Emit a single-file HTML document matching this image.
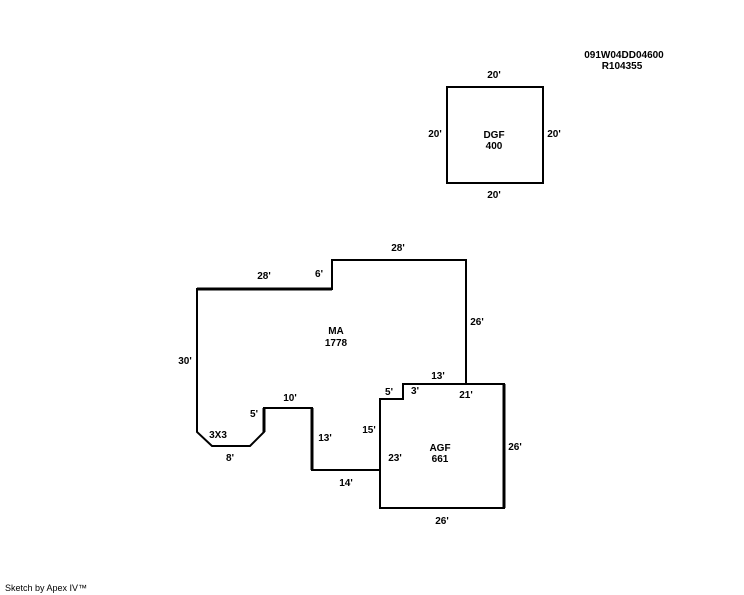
<!DOCTYPE html>
<html><head><meta charset="utf-8"><style>
html,body{margin:0;padding:0;background:#fff;width:744px;height:595px;overflow:hidden}
svg text{font-family:"Liberation Sans",Arial,sans-serif;font-weight:bold;font-size:10px;fill:#000}
</style></head><body>
<svg width="744" height="595" viewBox="0 0 744 595" xmlns="http://www.w3.org/2000/svg">
<g fill="none" stroke="#000" stroke-width="2">
<rect x="447" y="87" width="96" height="96"/>
<polyline points="466,384 466,260 332,260 332,289 197,289 197,432 212,446 250,446 264,432 264,408 312,408 312,470 380,470"/>
<polygon points="380,399 403,399 403,384 504,384 504,508 380,508"/>
</g>
<line x1="197" y1="289" x2="332" y2="289" stroke="#000" stroke-width="3"/>
<line x1="264" y1="408" x2="264" y2="432" stroke="#000" stroke-width="3"/>
<line x1="312" y1="408" x2="312" y2="470" stroke="#000" stroke-width="3"/>
<line x1="504" y1="384" x2="504" y2="508" stroke="#000" stroke-width="3"/>
<g text-anchor="middle">
<text x="624" y="58">091W04DD04600</text>
<text x="622" y="69">R104355</text>
<text x="494" y="78">20'</text>
<text x="435" y="137">20'</text>
<text x="554" y="137">20'</text>
<text x="494" y="138">DGF</text>
<text x="494" y="149">400</text>
<text x="494" y="198">20'</text>
<text x="398" y="251">28'</text>
<text x="264" y="279">28'</text>
<text x="319" y="277">6'</text>
<text x="477" y="325">26'</text>
<text x="336" y="334">MA</text>
<text x="336" y="346">1778</text>
<text x="185" y="364">30'</text>
<text x="438" y="379">13'</text>
<text x="389" y="395">5'</text>
<text x="415" y="394">3'</text>
<text x="466" y="398">21'</text>
<text x="290" y="401">10'</text>
<text x="254" y="417">5'</text>
<text x="369" y="433">15'</text>
<text x="218" y="438">3X3</text>
<text x="325" y="441">13'</text>
<text x="440" y="451">AGF</text>
<text x="440" y="462">661</text>
<text x="515" y="450">26'</text>
<text x="395" y="461">23'</text>
<text x="230" y="461">8'</text>
<text x="346" y="486">14'</text>
<text x="442" y="524">26'</text>
</g>
<text x="5" y="591" style="font-weight:normal;font-size:9px">Sketch by Apex IV™</text>
</svg>
</body></html>
